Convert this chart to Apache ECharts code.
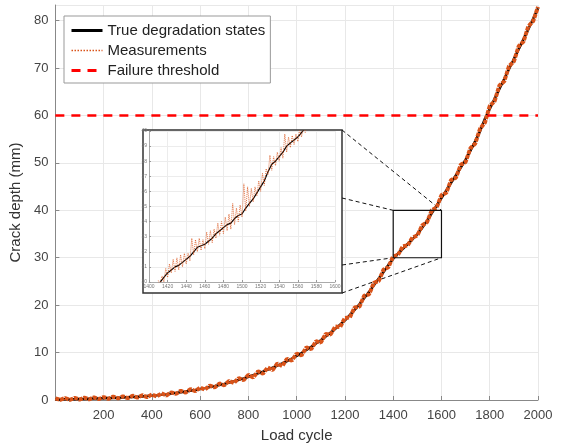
<!DOCTYPE html>
<html>
<head>
<meta charset="utf-8">
<title>Crack growth</title>
<script src="https://cdn.jsdelivr.net/npm/echarts@6/dist/echarts.min.js"></script>
<style>html,body{margin:0;padding:0;background:#fff}</style>
</head>
<body>
<div id="main" style="width:562px;height:448px;"></div>
<script>
// main view, one value every 20 load cycles
var cycles = [0,20,40,60,80,100,120,140,160,180,
  200,220,240,260,280,300,320,340,360,380,
  400,420,440,460,480,500,520,540,560,580,
  600,620,640,660,680,700,720,740,760,780,
  800,820,840,860,880,900,920,940,960,980,
  1000,1020,1040,1060,1080,1100,1120,1140,1160,1180,
  1200,1220,1240,1260,1280,1300,1320,1340,1360,1380,
  1400,1420,1440,1460,1480,1500,1520,1540,1560,1580,
  1600,1620,1640,1660,1680,1700,1720,1740,1760,1780,
  1800,1820,1840,1860,1880,1900,1920,1940,1960,1980,
  2000]
var trueDepth = [0.10,0.12,0.15,0.16,0.18,0.20,0.22,0.26,0.30,0.33,
  0.37,0.40,0.43,0.48,0.52,0.57,0.62,0.68,0.74,0.82,
  0.90,0.99,1.10,1.22,1.35,1.50,1.65,1.80,1.96,2.12,
  2.30,2.50,2.72,2.93,3.15,3.40,3.68,3.96,4.25,4.55,
  4.90,5.25,5.62,6.00,6.40,6.80,7.25,7.72,8.22,8.75,
  9.30,9.90,10.55,11.20,11.90,12.60,13.40,14.20,15.00,15.90,
  16.80,17.90,19.00,20.20,21.50,22.80,24.20,25.60,27.00,28.50,
  29.80,30.90,31.90,32.90,33.90,35.00,36.30,37.80,39.40,41.00,
  42.60,44.20,45.80,47.40,49.00,50.70,52.60,54.60,56.70,59.30,
  61.40,63.50,65.60,67.70,69.80,71.90,74.00,76.10,78.20,80.40,
  82.60]
var measDepth = [0.35,0.05,0.42,0.02,0.45,0.10,0.48,0.15,0.55,0.20,
  0.62,0.25,0.70,0.35,0.78,0.40,0.90,0.50,1.02,0.60,
  1.15,0.75,1.40,0.95,1.62,1.28,1.95,1.55,2.30,1.85,
  2.62,2.20,3.05,2.65,3.48,3.10,4.02,3.60,4.62,4.20,
  5.30,4.75,6.05,5.55,6.85,6.30,7.70,7.15,8.70,8.30,
  9.80,9.40,11.10,10.70,12.40,12.10,13.90,13.80,15.50,15.40,
  17.30,17.40,19.50,19.70,22.00,22.30,24.70,25.10,27.50,28.00,
  30.30,30.60,32.40,32.60,34.30,34.70,36.80,37.50,40.00,40.60,
  43.20,43.70,46.40,46.90,49.60,50.20,53.10,54.10,57.20,58.50,
  62.00,63.00,66.30,67.20,70.40,71.40,74.60,75.60,78.80,79.90,
  82.90]
var threshold = 60

// zoomed window
var zoomX = [1400, 1600]
var zoomY = [30, 40]
var insetTrueCycles = [1412,1416,1420,1424,1428,1432,1436,1440,1444,1448,
  1452,1456,1460,1464,1468,1472,1476,1480,1484,1488,
  1492,1496,1500,1504,1508,1512,1516,1520,1524,1528,
  1532,1536,1540,1544,1548,1552,1556,1560,1564,1568]
var insetTrue = [30.0,30.3,30.6,30.8,31.0,31.1,31.3,31.5,31.7,32.0,
  32.3,32.4,32.5,32.7,32.9,33.2,33.4,33.6,33.8,33.9,
  34.2,34.4,34.5,34.9,35.2,35.5,35.9,36.3,36.7,37.3,
  37.8,38.0,38.3,38.6,39.0,39.2,39.4,39.6,39.9,40.2]
var insetMeasCycles = [1410,1412,1414,1416,1418,1420,1422,1424,1426,1428,
  1430,1432,1434,1436,1438,1440,1442,1444,1446,1448,
  1450,1452,1454,1456,1458,1460,1462,1464,1466,1468,
  1470,1472,1474,1476,1478,1480,1482,1484,1486,1488,
  1490,1492,1494,1496,1498,1500,1502,1504,1506,1508,
  1510,1512,1514,1516,1518,1520,1522,1524,1526,1528,
  1530,1532,1534,1536,1538,1540,1542,1544,1546,1548,
  1550,1552,1554,1556,1558,1560,1562,1564,1566,1568,1570]
var insetMeas = [30.1,29.8,30.4,30.0,30.9,30.3,31.2,30.6,31.5,30.7,
  31.6,30.8,31.8,31.0,31.9,31.2,31.9,31.4,32.9,31.8,
  32.8,32.0,32.9,32.1,32.8,32.2,33.3,32.5,33.4,32.6,
  33.5,32.9,33.9,33.1,34.0,33.2,34.3,33.4,34.5,33.5,
  35.2,33.8,34.9,34.0,35.1,34.3,36.5,34.7,36.3,35.0,
  36.2,35.3,36.3,35.7,36.7,36.0,37.2,36.4,37.5,37.1,
  38.4,37.4,38.3,37.7,38.6,38.0,38.9,38.2,39.8,38.6,
  39.6,38.9,39.7,39.1,39.8,39.3,40.1,39.6,40.3,39.9,40.4]

function pairs(xs, ys) {
  var out = []
  for (var i = 0; i < xs.length; i++) out.push([xs[i], ys[i]])
  return out
}
function plain(v) { return String(v) }

var orange = '#D95319'
var font = 'Liberation Sans'
var insetFrame = { x: 143, y: 130, w: 199, h: 163 }

var chart = echarts.init(document.getElementById('main'))
var option = {
  animation: false,
  textStyle: { fontFamily: font },
  grid: [
    { left: 54, right: 24, top: 5, bottom: 45 },
    { left: 149, top: 131, width: 186, height: 151, z: 3 }
  ],
  xAxis: [{
    type: 'value', min: 0, max: 2000, interval: 200,
    name: 'Load cycle', nameLocation: 'middle', nameGap: 28,
    nameTextStyle: { fontSize: 15, color: '#333' },
    axisLine: { lineStyle: { color: '#888' } },
    axisTick: { inside: true, length: 4, lineStyle: { color: '#888' } },
    axisLabel: { fontSize: 13, color: '#444', showMinLabel: false, margin: 9, formatter: plain },
    splitLine: { lineStyle: { color: '#e8e8e8' } }
  }, {
    type: 'value', gridIndex: 1, min: zoomX[0], max: zoomX[1], interval: 20, z: 3,
    axisLine: { lineStyle: { color: '#999', width: 0.8 } },
    axisTick: { inside: true, length: 2, lineStyle: { color: '#999' } },
    axisLabel: { fontSize: 5, color: '#777', margin: 2, formatter: plain },
    splitLine: { lineStyle: { color: '#ececec' } }
  }],
  yAxis: [{
    type: 'value', min: 0, max: 83.3, interval: 10,
    name: 'Crack depth (mm)', nameLocation: 'middle', nameGap: 19,
    nameTextStyle: { fontSize: 15, color: '#333' },
    axisLine: { show: true, lineStyle: { color: '#888' } },
    axisTick: { show: true, inside: true, length: 4, lineStyle: { color: '#888' } },
    axisLabel: { fontSize: 13, color: '#444', showMaxLabel: false, margin: 7 },
    splitLine: { lineStyle: { color: '#e8e8e8' } }
  }, {
    type: 'value', gridIndex: 1, min: zoomY[0], max: zoomY[1], interval: 1, z: 3,
    axisLine: { show: true, lineStyle: { color: '#999', width: 0.8 } },
    axisTick: { show: true, inside: true, length: 2, lineStyle: { color: '#999' } },
    axisLabel: { fontSize: 5, color: '#777', margin: 2 },
    splitLine: { lineStyle: { color: '#ececec' } }
  }],
  legend: {
    orient: 'vertical', left: 64, top: 16,
    padding: [7, 5, 5, 6], itemGap: 5, itemWidth: 31, itemHeight: 14,
    backgroundColor: '#fff', borderColor: '#999', borderWidth: 1,
    itemStyle: { opacity: 0 },
    lineStyle: { width: 3 },
    textStyle: { fontSize: 15, color: '#222', fontFamily: font },
    data: [
      'True degradation states',
      { name: 'Measurements', lineStyle: { width: 1.5, type: [1.5, 1.5] } },
      'Failure threshold'
    ]
  },
  series: [{
    name: 'True degradation states', type: 'line', symbol: 'none',
    data: pairs(cycles, trueDepth),
    lineStyle: { color: '#000', width: 2.5 }, itemStyle: { color: '#000' }
  }, {
    name: 'Measurements', type: 'line', symbol: 'none',
    data: pairs(cycles, measDepth),
    lineStyle: { color: orange, width: 4, type: [4, 1] }, itemStyle: { color: orange }
  }, {
    name: 'Failure threshold', type: 'line', symbol: 'none',
    data: [[0, threshold], [2000, threshold]],
    lineStyle: { color: '#f00', width: 2.5, type: [9, 7] }, itemStyle: { color: '#f00' }
  }, {
    name: 'zoom box', type: 'line', symbol: 'none', z: 4,
    data: [[zoomX[0], zoomY[0]], [zoomX[1], zoomY[0]], [zoomX[1], zoomY[1]], [zoomX[0], zoomY[1]], [zoomX[0], zoomY[0]]],
    lineStyle: { color: '#111', width: 1.2 }
  }, {
    name: 'inset truth', type: 'line', symbol: 'none', xAxisIndex: 1, yAxisIndex: 1, z: 6,
    data: pairs(insetTrueCycles, insetTrue),
    lineStyle: { color: '#000', width: 1.2 }
  }, {
    name: 'inset meas', type: 'line', symbol: 'none', xAxisIndex: 1, yAxisIndex: 1, z: 7,
    data: pairs(insetMeasCycles, insetMeas),
    lineStyle: { color: orange, width: 1, type: 'dotted', opacity: 0.8 }
  }]
}
chart.setOption(option)

// inset frame and dashed connectors to the zoom box
var tl = chart.convertToPixel({ gridIndex: 0 }, [zoomX[0], zoomY[1]])
var tr = chart.convertToPixel({ gridIndex: 0 }, [zoomX[1], zoomY[1]])
var bl = chart.convertToPixel({ gridIndex: 0 }, [zoomX[0], zoomY[0]])
var br = chart.convertToPixel({ gridIndex: 0 }, [zoomX[1], zoomY[0]])
var fx = insetFrame.x + insetFrame.w
var dash = { stroke: '#111', lineWidth: 1, lineDash: [4, 3] }
chart.setOption({
  graphic: [
    { type: 'rect', z: 1, shape: { x: insetFrame.x, y: insetFrame.y, width: insetFrame.w, height: insetFrame.h },
      style: { fill: '#fff', stroke: '#333', lineWidth: 1.5 } },
    { type: 'line', z: 1, shape: { x1: fx, y1: insetFrame.y, x2: tr[0], y2: tr[1] }, style: dash },
    { type: 'line', z: 1, shape: { x1: fx, y1: 198, x2: tl[0], y2: tl[1] }, style: dash },
    { type: 'line', z: 1, shape: { x1: fx, y1: 265, x2: bl[0], y2: bl[1] }, style: dash },
    { type: 'line', z: 1, shape: { x1: fx, y1: insetFrame.y + insetFrame.h, x2: br[0], y2: br[1] }, style: dash }
  ]
})
</script>
</body>
</html>
